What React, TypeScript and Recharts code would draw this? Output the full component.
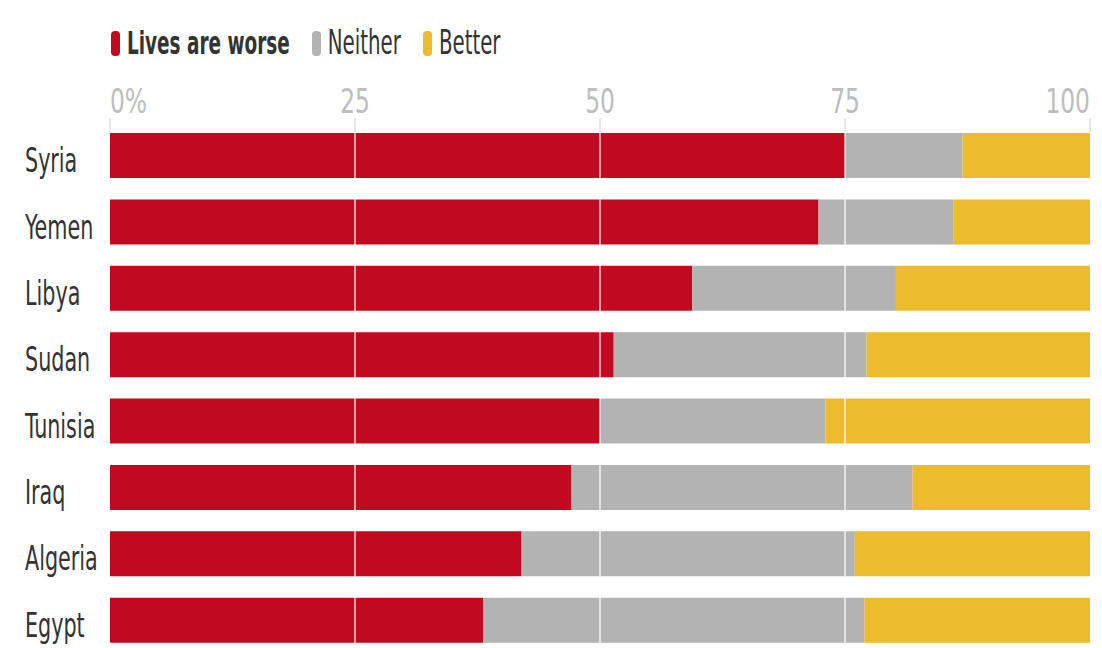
import { BarChart, Bar, XAxis, YAxis, ReferenceLine } from "recharts";

const countries = ["Syria", "Yemen", "Libya", "Sudan", "Tunisia", "Iraq", "Algeria", "Egypt"];
const worse = [75, 72.3, 59.4, 51.4, 50, 47.1, 42, 38.1];
const neither = [12, 13.8, 20.8, 25.8, 23, 34.8, 34, 38.9];
const better = [13, 13.9, 19.8, 22.8, 27, 18.1, 24, 23];
const xTicks = [0, 25, 50, 75, 100];

const SERIES = [
  { key: "worse", name: "Lives are worse", color: "#c10a1f", bold: true },
  { key: "neither", name: "Neither", color: "#b3b3b3", bold: false },
  { key: "better", name: "Better", color: "#ecbc2e", bold: false },
];

const data = countries.map((country, i) => ({
  country,
  worse: worse[i],
  neither: neither[i],
  better: better[i],
}));

const FONT = "'DejaVu Sans Condensed', 'Liberation Sans Narrow', 'Liberation Sans', sans-serif";

const XTick = (props: any) => {
  const { x, y, payload } = props;
  const v = payload.value;
  const anchor = v === 0 ? "start" : v === 100 ? "end" : "middle";
  return (
    <g>
      <line x1={x} x2={x} y1={y - 4} y2={y + 10} stroke="#d0d0d0" strokeWidth={1} />
      <text
        transform={`translate(${x},${y - 9}) scale(1,1.3)`}
        textAnchor={anchor}
        fill="#bdbdbd"
        fontSize={26}
        fontFamily={FONT}
      >
        {v === 0 ? "0%" : v}
      </text>
    </g>
  );
};

const YTick = (props: any) => {
  const { y, payload } = props;
  return (
    <text
      transform={`translate(25,${y + 17}) scale(1,1.47)`}
      textAnchor="start"
      fill="#333"
      fontSize={23}
      fontFamily={FONT}
    >
      {payload.value}
    </text>
  );
};

export default function App() {
  return (
    <div
      style={{
        position: "relative",
        marginLeft: -8,
        marginTop: -8,
        width: 1102,
        height: 648,
        overflow: "hidden",
        background: "#fff",
      }}
    >
      <div style={{ position: "absolute", left: 6, top: 0, width: 1, height: 648, background: "#dcdcdc" }} />
      <div style={{ position: "absolute", left: 111, top: 28, display: "flex", alignItems: "center", fontFamily: FONT }}>
        {SERIES.map((s) => (
          <div key={s.key} style={{ display: "flex", alignItems: "center", marginRight: 22 }}>
            <span style={{ width: 9, height: 25, borderRadius: 4, background: s.color, marginRight: 7 }} />
            <span
              style={{
                display: "inline-block",
                fontSize: s.bold ? 20.5 : 22,
                fontWeight: s.bold ? 700 : 400,
                color: "#333",
                transform: "scaleY(1.55)",
                lineHeight: "30px",
              }}
            >
              {s.name}
            </span>
          </div>
        ))}
      </div>
      <div style={{ position: "absolute", left: 0, top: 0 }}>
        <BarChart
          width={1102}
          height={680}
          data={data}
          layout="vertical"
          margin={{ top: 82, right: 12, bottom: 27, left: 0 }}
          barSize={45}
        >
          <XAxis
            type="number"
            orientation="top"
            domain={[0, 100]}
            ticks={xTicks}
            axisLine={false}
            tickLine={false}
            tickSize={0}
            tickMargin={0}
            height={40}
            tick={<XTick />}
            interval={0}
          />
          <YAxis
            type="category"
            dataKey="country"
            width={110}
            axisLine={false}
            tickLine={false}
            tick={<YTick />}
            interval={0}
          />
          {SERIES.map((s) => (
            <Bar key={s.key} dataKey={s.key} name={s.name} stackId="a" fill={s.color} isAnimationActive={false} />
          ))}
          {[25, 50, 75].map((v) => (
            <ReferenceLine key={v} x={v} stroke="#ffffff" strokeOpacity={0.8} strokeWidth={1.5} zIndex={1000} />
          ))}
        </BarChart>
      </div>
    </div>
  );
}
